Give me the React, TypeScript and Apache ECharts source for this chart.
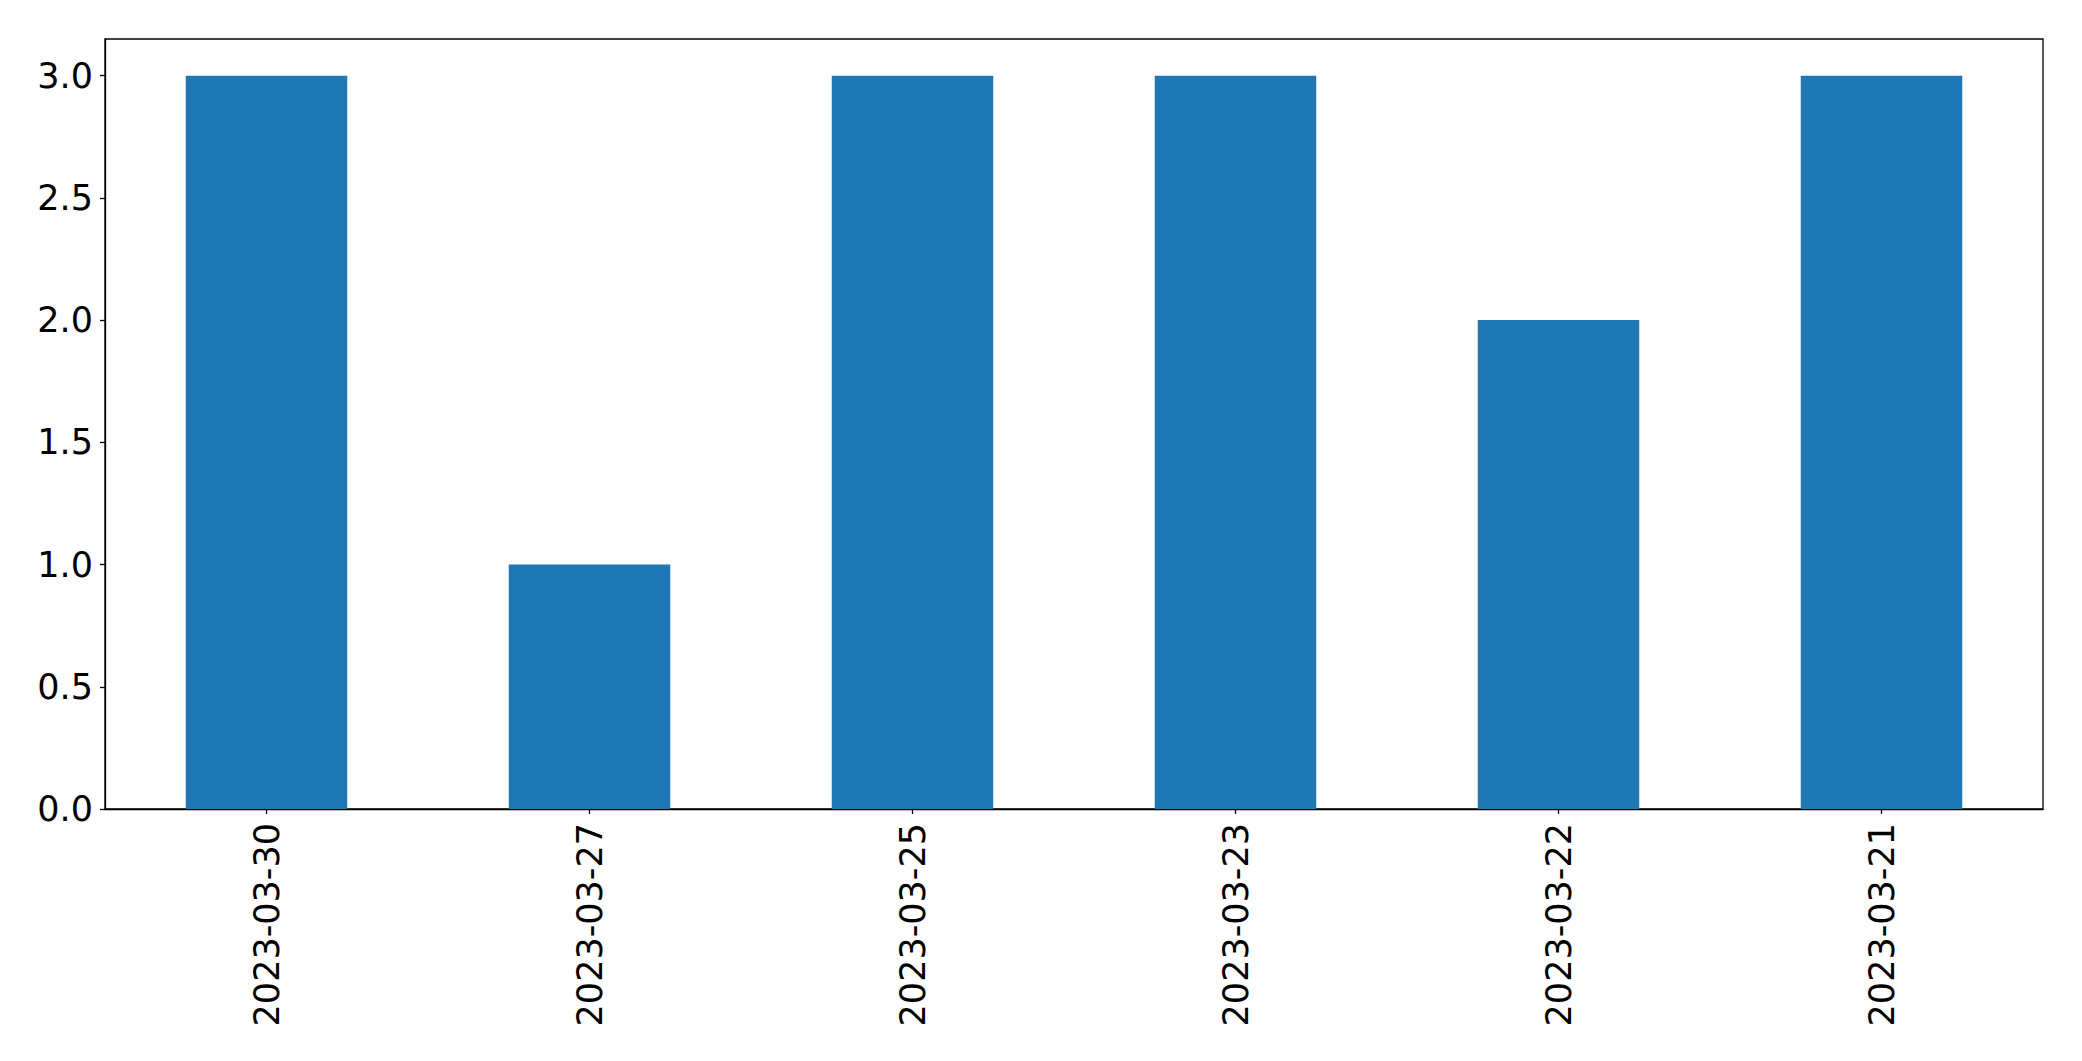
import React, { useEffect, useRef } from "react";
import * as echarts from "echarts";

const categories = ["2023-03-30", "2023-03-27", "2023-03-25", "2023-03-23", "2023-03-22", "2023-03-21"];
const values = [3, 1, 3, 3, 2, 3];
const yTicks = [0, 0.5, 1.0, 1.5, 2.0, 2.5, 3.0];
const yMax = 3.15;

export default function App() {
  const ref = useRef<HTMLDivElement>(null);
  useEffect(() => {
    if (!ref.current) return;
    const chart = echarts.init(ref.current, undefined, { renderer: "svg" });
    const font = "DejaVu Sans";
    chart.setOption({
      animation: false,
      backgroundColor: "#ffffff",
      grid: {
        left: 105,
        right: 39,
        top: 39,
        bottom: 252,
        show: true,
        borderColor: "#000000",
        borderWidth: 1.3,
        containLabel: false,
      },
      xAxis: {
        type: "category",
        data: categories,
        boundaryGap: true,
        axisLine: { show: true, lineStyle: { color: "#000000", width: 1.3 } },
        axisTick: { show: true, alignWithLabel: true, length: 5, lineStyle: { color: "#000000", width: 1.3 } },
        axisLabel: { rotate: 90, margin: 14, color: "#000000", fontSize: 35, fontFamily: font },
        splitLine: { show: false },
      },
      yAxis: {
        type: "value",
        min: 0,
        max: yMax,
        axisLine: { show: true, lineStyle: { color: "#000000", width: 1.3 } },
        axisTick: { show: true, length: 5, lineStyle: { color: "#000000", width: 1.3 }, customValues: yTicks },
        axisLabel: {
          margin: 12,
          color: "#000000",
          fontSize: 35,
          fontFamily: font,
          customValues: yTicks,
          formatter: (v: number) => v.toFixed(1),
        },
        splitLine: { show: false },
      },
      series: [
        {
          type: "bar",
          data: values,
          barWidth: "50%",
          itemStyle: { color: "#1f77b4" },
        },
      ],
    });
    return () => chart.dispose();
  }, []);
  return (
    <div
      ref={ref}
      style={{ position: "fixed", left: 0, top: 0, width: 2082, height: 1061, background: "#fff" }}
    />
  );
}
